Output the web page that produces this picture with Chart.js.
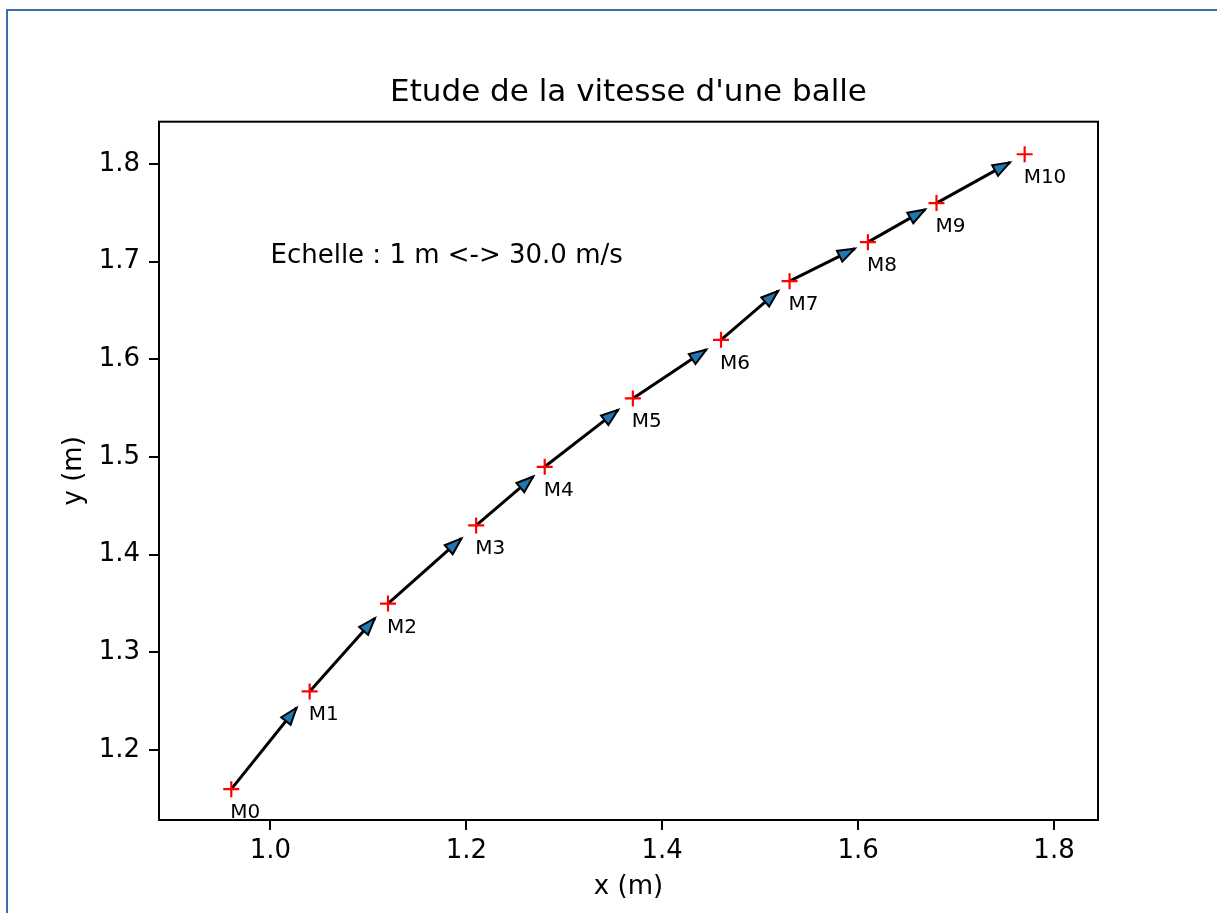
<!DOCTYPE html>
<html><head><meta charset="utf-8">
<script src="https://cdn.jsdelivr.net/npm/chart.js@4/dist/chart.umd.min.js"></script>
<style>
html,body{margin:0;padding:0;background:#fff;}
#wrap{position:relative;width:1217px;height:913px;overflow:hidden;background:#fff;}
#frame{position:absolute;left:6px;top:9px;width:1300px;height:1000px;border-left:2px solid #3f6ea6;border-top:2px solid #3f6ea6;pointer-events:none;}
canvas{position:absolute;left:0;top:0;}
</style></head><body>
<div id="wrap"><canvas id="c" width="1217" height="913"></canvas><div id="frame"></div></div>
<script>
// ---- data ----
const pointNames = ['M0','M1','M2','M3','M4','M5','M6','M7','M8','M9','M10'];
const xPos = [0.96, 1.04, 1.12, 1.21, 1.28, 1.37, 1.46, 1.53, 1.61, 1.68, 1.77];
const yPos = [1.16, 1.26, 1.35, 1.43, 1.49, 1.56, 1.62, 1.68, 1.72, 1.76, 1.81];
// velocity vectors (m/s) at M0..M9
const vx = [2.0, 2.0, 2.25, 1.75, 2.25, 2.25, 1.75, 2.0, 1.75, 2.25];
const vy = [2.5, 2.25, 2.0, 1.5, 1.75, 1.5, 1.5, 1.0, 1.0, 1.25];
const scaleFactor = 30.0; // 1 m <-> 30.0 m/s
const xTicks = [1.0, 1.2, 1.4, 1.6, 1.8];
const yTicks = [1.2, 1.3, 1.4, 1.5, 1.6, 1.7, 1.8];
const xLimits = [0.8862, 1.8449];
const yLimits = [1.1284, 1.8433];
const titleText = "Etude de la vitesse d'une balle";
const xLabel = 'x (m)';
const yLabel = 'y (m)';
const noteText = 'Echelle : 1 m <-> ' + scaleFactor.toFixed(1) + ' m/s';
const notePos = {x: 1.0, y: 1.70};

Chart.defaults.font.family = "'DejaVu Sans', sans-serif";
Chart.defaults.color = '#000';

const pointsDataset = {
  label: 'points',
  data: xPos.map((x, i) => ({x: x, y: yPos[i]})),
  showLine: false,
  pointStyle: 'cross',
  pointRadius: 8,
  pointHoverRadius: 8,
  pointBorderColor: '#ff0000',
  pointBorderWidth: 2.2,
  order: 0
};
const arrowDatasets = vx.map((v, i) => ({
  label: 'v' + i,
  isArrow: true,
  data: [{x: xPos[i], y: yPos[i]}, {x: xPos[i] + vx[i] / scaleFactor, y: yPos[i] + vy[i] / scaleFactor}],
  showLine: true,
  borderColor: '#000',
  borderWidth: 3,
  pointRadius: 0,
  pointHoverRadius: 0,
  order: 1
}));

const arrowHeads = {
  id: 'arrowHeads',
  afterDatasetDraw(chart, args) {
    const ds = chart.data.datasets[args.index];
    if (!ds.isArrow) return;
    const pts = args.meta.data;
    const a = pts[0], b = pts[1];
    const dx = b.x - a.x, dy = b.y - a.y, L = Math.hypot(dx, dy);
    const ux = dx / L, uy = dy / L;
    const hl = 17, hw = 6;
    const bx = b.x - ux * hl, by = b.y - uy * hl;
    const ctx = chart.ctx;
    ctx.save();
    ctx.beginPath();
    ctx.moveTo(b.x, b.y);
    ctx.lineTo(bx - uy * hw, by + ux * hw);
    ctx.lineTo(bx + uy * hw, by - ux * hw);
    ctx.closePath();
    ctx.fillStyle = '#1f77b4';
    ctx.fill();
    ctx.lineWidth = 2;
    ctx.strokeStyle = '#000';
    ctx.lineJoin = 'miter';
    ctx.stroke();
    ctx.restore();
  }
};

const annotations = {
  id: 'annotations',
  afterDatasetsDraw(chart) {
    const ctx = chart.ctx;
    const meta = chart.getDatasetMeta(0);
    ctx.save();
    ctx.fillStyle = '#000';
    ctx.textAlign = 'left';
    ctx.textBaseline = 'alphabetic';
    ctx.font = "20px 'DejaVu Sans'";
    meta.data.forEach((p, i) => {
      ctx.fillText(pointNames[i], p.x - 1, p.y + 29);
    });
    ctx.font = "26px 'DejaVu Sans'";
    ctx.fillText(noteText, chart.scales.x.getPixelForValue(notePos.x), chart.scales.y.getPixelForValue(notePos.y) + 1);
    ctx.restore();
  },
  afterDraw(chart) {
    const ca = chart.chartArea, ctx = chart.ctx;
    ctx.save();
    ctx.strokeStyle = '#000';
    ctx.lineWidth = 2;
    ctx.strokeRect(ca.left, ca.top, ca.right - ca.left, ca.bottom - ca.top);
    ctx.restore();
  }
};

new Chart(document.getElementById('c'), {
  type: 'scatter',
  data: {datasets: [pointsDataset].concat(arrowDatasets)},
  options: {
    responsive: false,
    animation: false,
    devicePixelRatio: 1,
    layout: {padding: {left: 0, top: 0, right: 119, bottom: 0}},
    plugins: {
      legend: {display: false},
      tooltip: {enabled: false},
      title: {
        display: true,
        fullSize: false,
        text: titleText,
        color: '#000',
        font: {size: 31, weight: 'normal', lineHeight: 1.2},
        padding: {top: 74, bottom: 10.5}
      }
    },
    scales: {
      x: {
        type: 'linear',
        min: xLimits[0], max: xLimits[1],
        afterBuildTicks: s => { s.ticks = xTicks.map(v => ({value: v})); },
        afterFit: s => { s.height = 93; },
        ticks: {callback: v => Number(v).toFixed(1), font: {size: 26, lineHeight: 1.2}, color: '#000', padding: 5.5, maxRotation: 0, autoSkip: false},
        grid: {display: true, drawOnChartArea: false, drawTicks: true, tickLength: 10, color: '#000', lineWidth: 2},
        border: {display: false},
        title: {display: true, text: xLabel, color: '#000', font: {size: 26, lineHeight: 1.2}, padding: {top: 0, bottom: 10.4}}
      },
      y: {
        type: 'linear',
        min: yLimits[0], max: yLimits[1],
        afterBuildTicks: s => { s.ticks = yTicks.map(v => ({value: v})); },
        afterFit: s => { s.width = 159; },
        ticks: {callback: v => Number(v).toFixed(1), font: {size: 26, lineHeight: 1.2}, color: '#000', padding: 9, autoSkip: false},
        grid: {display: true, drawOnChartArea: false, drawTicks: true, tickLength: 10, color: '#000', lineWidth: 2},
        border: {display: false},
        title: {display: true, text: yLabel, color: '#000', font: {size: 26, lineHeight: 1.2}, padding: {top: 58.4, bottom: 0}}
      }
    }
  },
  plugins: [arrowHeads, annotations]
});
</script>
</body></html>
